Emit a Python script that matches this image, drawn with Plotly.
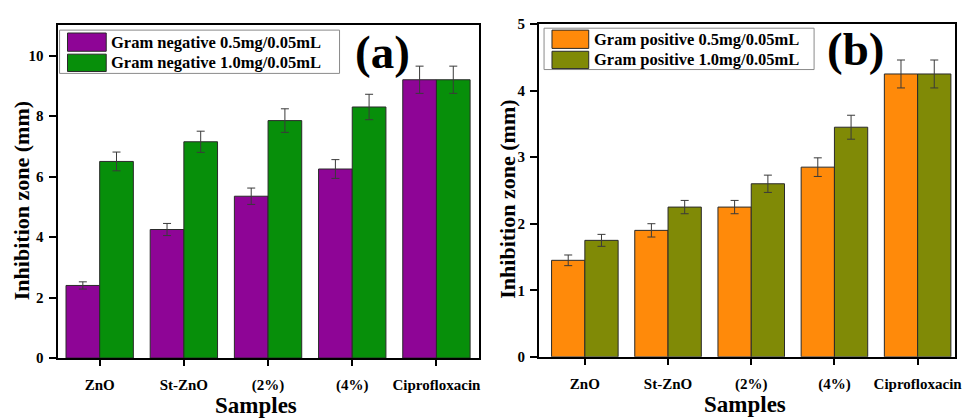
import plotly.graph_objects as go

# Samples tested
samples = ["ZnO", "St-ZnO", "(2%)", "(4%)", "Ciprofloxacin"]

# (a) Gram negative inhibition zones (mm) and standard deviations
neg_05_names = "Gram negative 0.5mg/0.05mL"
neg_10_names = "Gram negative 1.0mg/0.05mL"
neg_05 = [2.40, 4.25, 5.35, 6.25, 9.20]
neg_05_err = [0.12, 0.20, 0.27, 0.31, 0.45]
neg_10 = [6.50, 7.15, 7.85, 8.30, 9.20]
neg_10_err = [0.31, 0.35, 0.39, 0.42, 0.45]

# (b) Gram positive inhibition zones (mm) and standard deviations
pos_05_names = "Gram positive 0.5mg/0.05mL"
pos_10_names = "Gram positive 1.0mg/0.05mL"
pos_05 = [1.45, 1.90, 2.25, 2.85, 4.25]
pos_05_err = [0.08, 0.10, 0.10, 0.14, 0.21]
pos_10 = [1.75, 2.25, 2.60, 3.45, 4.25]
pos_10_err = [0.09, 0.10, 0.13, 0.18, 0.21]

x_title = "Samples"
y_title = "Inhibition zone (mm)"

W, H = 971, 418
FONT = "Liberation Serif"
PURPLE, GREEN = "#8e0596", "#078f0a"
ORANGE, OLIVE = "#ff8a0a", "#808a06"


def px(x, y):
    return x / W, 1 - y / H


def bar(x, y, err, color, name, xa, ya):
    return go.Bar(
        x=x, y=y, name=name, xaxis=xa, yaxis=ya, showlegend=False,
        marker=dict(color=color, line=dict(color="#2a2a2a", width=1)),
        error_y=dict(type="data", array=err, color="#3a3a3a", thickness=1, width=4),
    )


fig = go.Figure()
fig.add_trace(bar(samples, neg_05, neg_05_err, PURPLE, neg_05_names, "x", "y"))
fig.add_trace(bar(samples, neg_10, neg_10_err, GREEN, neg_10_names, "x", "y"))
fig.add_trace(bar(samples, pos_05, pos_05_err, ORANGE, pos_05_names, "x2", "y2"))
fig.add_trace(bar(samples, pos_10, pos_10_err, OLIVE, pos_10_names, "x2", "y2"))

axis_common = dict(
    showline=True, linecolor="black", linewidth=2, mirror=True,
    ticks="outside", tickcolor="black", tickwidth=2,
    showgrid=False, zeroline=False,
    tickfont=dict(family=FONT, size=15, color="black", weight="bold"),
)

fig.update_layout(
    width=W, height=H,
    margin=dict(l=0, r=0, t=0, b=0),
    paper_bgcolor="white", plot_bgcolor="white",
    barmode="group", bargap=0.2, bargroupgap=0,
    xaxis=dict(domain=[58 / W, 482 / W], anchor="y", range=[-0.5, 4.5],
               ticklen=6, ticklabelstandoff=6, **axis_common),
    yaxis=dict(domain=[1 - 364 / H, 1 - 18 / H], anchor="x", range=[0, 11],
               dtick=2, ticklen=7, ticklabelstandoff=2, **axis_common),
    xaxis2=dict(domain=[543 / W, 962 / W], anchor="y2", range=[-0.55, 4.45],
                ticklen=6, ticklabelstandoff=6, **axis_common),
    yaxis2=dict(domain=[1 - 362.7 / H, 1 - 16.7 / H], anchor="x2", range=[0, 5],
                dtick=1, ticklen=7, ticklabelstandoff=2, **axis_common),
)

shapes = []
annotations = []


def text_at(x, y, text, size, angle=0, anchor="center"):
    ax, ay = px(x, y)
    annotations.append(dict(xref="paper", yref="paper", x=ax, y=ay, text=text,
                            showarrow=False, xanchor=anchor, yanchor="middle",
                            textangle=angle,
                            font=dict(family=FONT, size=size, color="black", weight="bold")))


# Axis titles
text_at(258, 413, x_title, 23)
text_at(750, 412, x_title, 23)
text_at(21, 200, y_title, 22, angle=-90)
text_at(511, 199, y_title, 22, angle=-90)


# Legend boxes with large swatches
def legend_box(x0, y0, x1, y1, entries):
    a, b = px(x0, y0)
    c, d = px(x1, y1)
    shapes.append(dict(type="rect", xref="paper", yref="paper", x0=a, y0=d, x1=c, y1=b,
                       line=dict(color="#8a8a8a", width=1), fillcolor="white", layer="above"))
    for (sx0, sy0, sx1, sy1, color, text, tx) in entries:
        a, b = px(sx0, sy0)
        c, d = px(sx1, sy1)
        shapes.append(dict(type="rect", xref="paper", yref="paper", x0=a, y0=d, x1=c, y1=b,
                           line=dict(color="#2a2a2a", width=1), fillcolor=color, layer="above"))
        text_at(tx, (sy0 + sy1) / 2, text, 16.5, anchor="left")


legend_box(60, 23, 342, 68, [
    (68, 26, 107, 45, PURPLE, neg_05_names, 110),
    (68, 48, 107, 66, GREEN, neg_10_names, 110),
])
legend_box(548, 21, 820, 64, [
    (556, 23, 593, 42, ORANGE, pos_05_names, 596),
    (556, 45, 593, 63, OLIVE, pos_10_names, 596),
])

# Panel labels
text_at(385, 46, "(a)", 47)
text_at(862, 43, "(b)", 47)

fig.update_layout(shapes=shapes, annotations=annotations)
fig.write_html("out.html")
